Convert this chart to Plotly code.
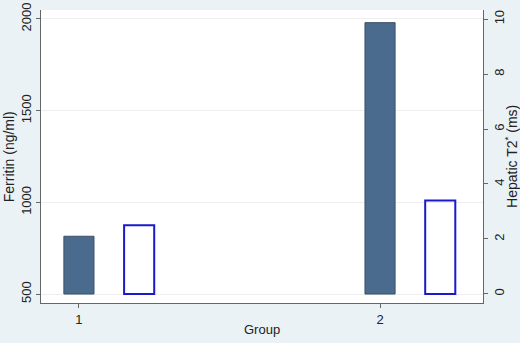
import plotly.graph_objects as go

groups = [1, 2]
ferritin = [815, 1980]
t2star = [2.5, 3.4]
ferritin_base = 500
left_ticks = [500, 1000, 1500, 2000]
right_ticks = [0, 2, 4, 6, 8, 10]

fig = go.Figure()
fig.add_trace(go.Bar(
    x=groups, y=[v - ferritin_base for v in ferritin], base=ferritin_base,
    width=0.1, offset=-0.05,
    marker=dict(color="#4a6b8d", line=dict(color="#3b5066", width=1)),
    yaxis="y", showlegend=False))
fig.add_trace(go.Bar(
    x=groups, y=t2star, base=0,
    width=0.1, offset=0.15,
    marker=dict(color="rgba(255,255,255,0)", line=dict(color="#1a1acc", width=2)),
    yaxis="y2", showlegend=False))

font = dict(family="Liberation Sans, Arial, sans-serif", size=13, color="#222")
axis_common = dict(showline=True, linecolor="#666", linewidth=1, ticks="outside", ticklen=4,
                   tickcolor="#666", zeroline=False, automargin=False)
fig.update_layout(
    width=520, height=343,
    margin=dict(l=41, r=37, t=10, b=40),
    paper_bgcolor="#eaf2f5", plot_bgcolor="white",
    barmode="overlay", font=font,
    xaxis=dict(range=[0.874, 2.342], tickvals=groups, ticktext=[str(g) for g in groups],
               showgrid=False, **axis_common),
    yaxis=dict(range=[451, 2049], tickvals=left_ticks, tickangle=-90,
               showgrid=True, gridcolor="#eeeeee", **axis_common),
    yaxis2=dict(range=[-0.33, 10.33], tickvals=right_ticks, tickangle=-90,
                overlaying="y", side="right", showgrid=False, **axis_common),
    annotations=[
        dict(text="Group", xref="paper", yref="paper", x=0.5, y=-0.09,
             yanchor="middle", xanchor="center", showarrow=False, font=font),
        dict(text="Ferritin (ng/ml)", xref="paper", yref="paper", x=-0.073, y=0.5,
             xanchor="center", yanchor="middle", textangle=-90, showarrow=False,
             font=dict(font, size=14)),
        dict(text="Hepatic T2<sup>*</sup> (ms)", xref="paper", yref="paper", x=1.062, y=0.5,
             xanchor="center", yanchor="middle", textangle=-90, showarrow=False,
             font=dict(font, size=14)),
    ],
)
fig.write_html("out.html", config={"displayModeBar": False},
               post_script="document.body.style.margin='0';document.body.style.background='#eaf2f5';")
